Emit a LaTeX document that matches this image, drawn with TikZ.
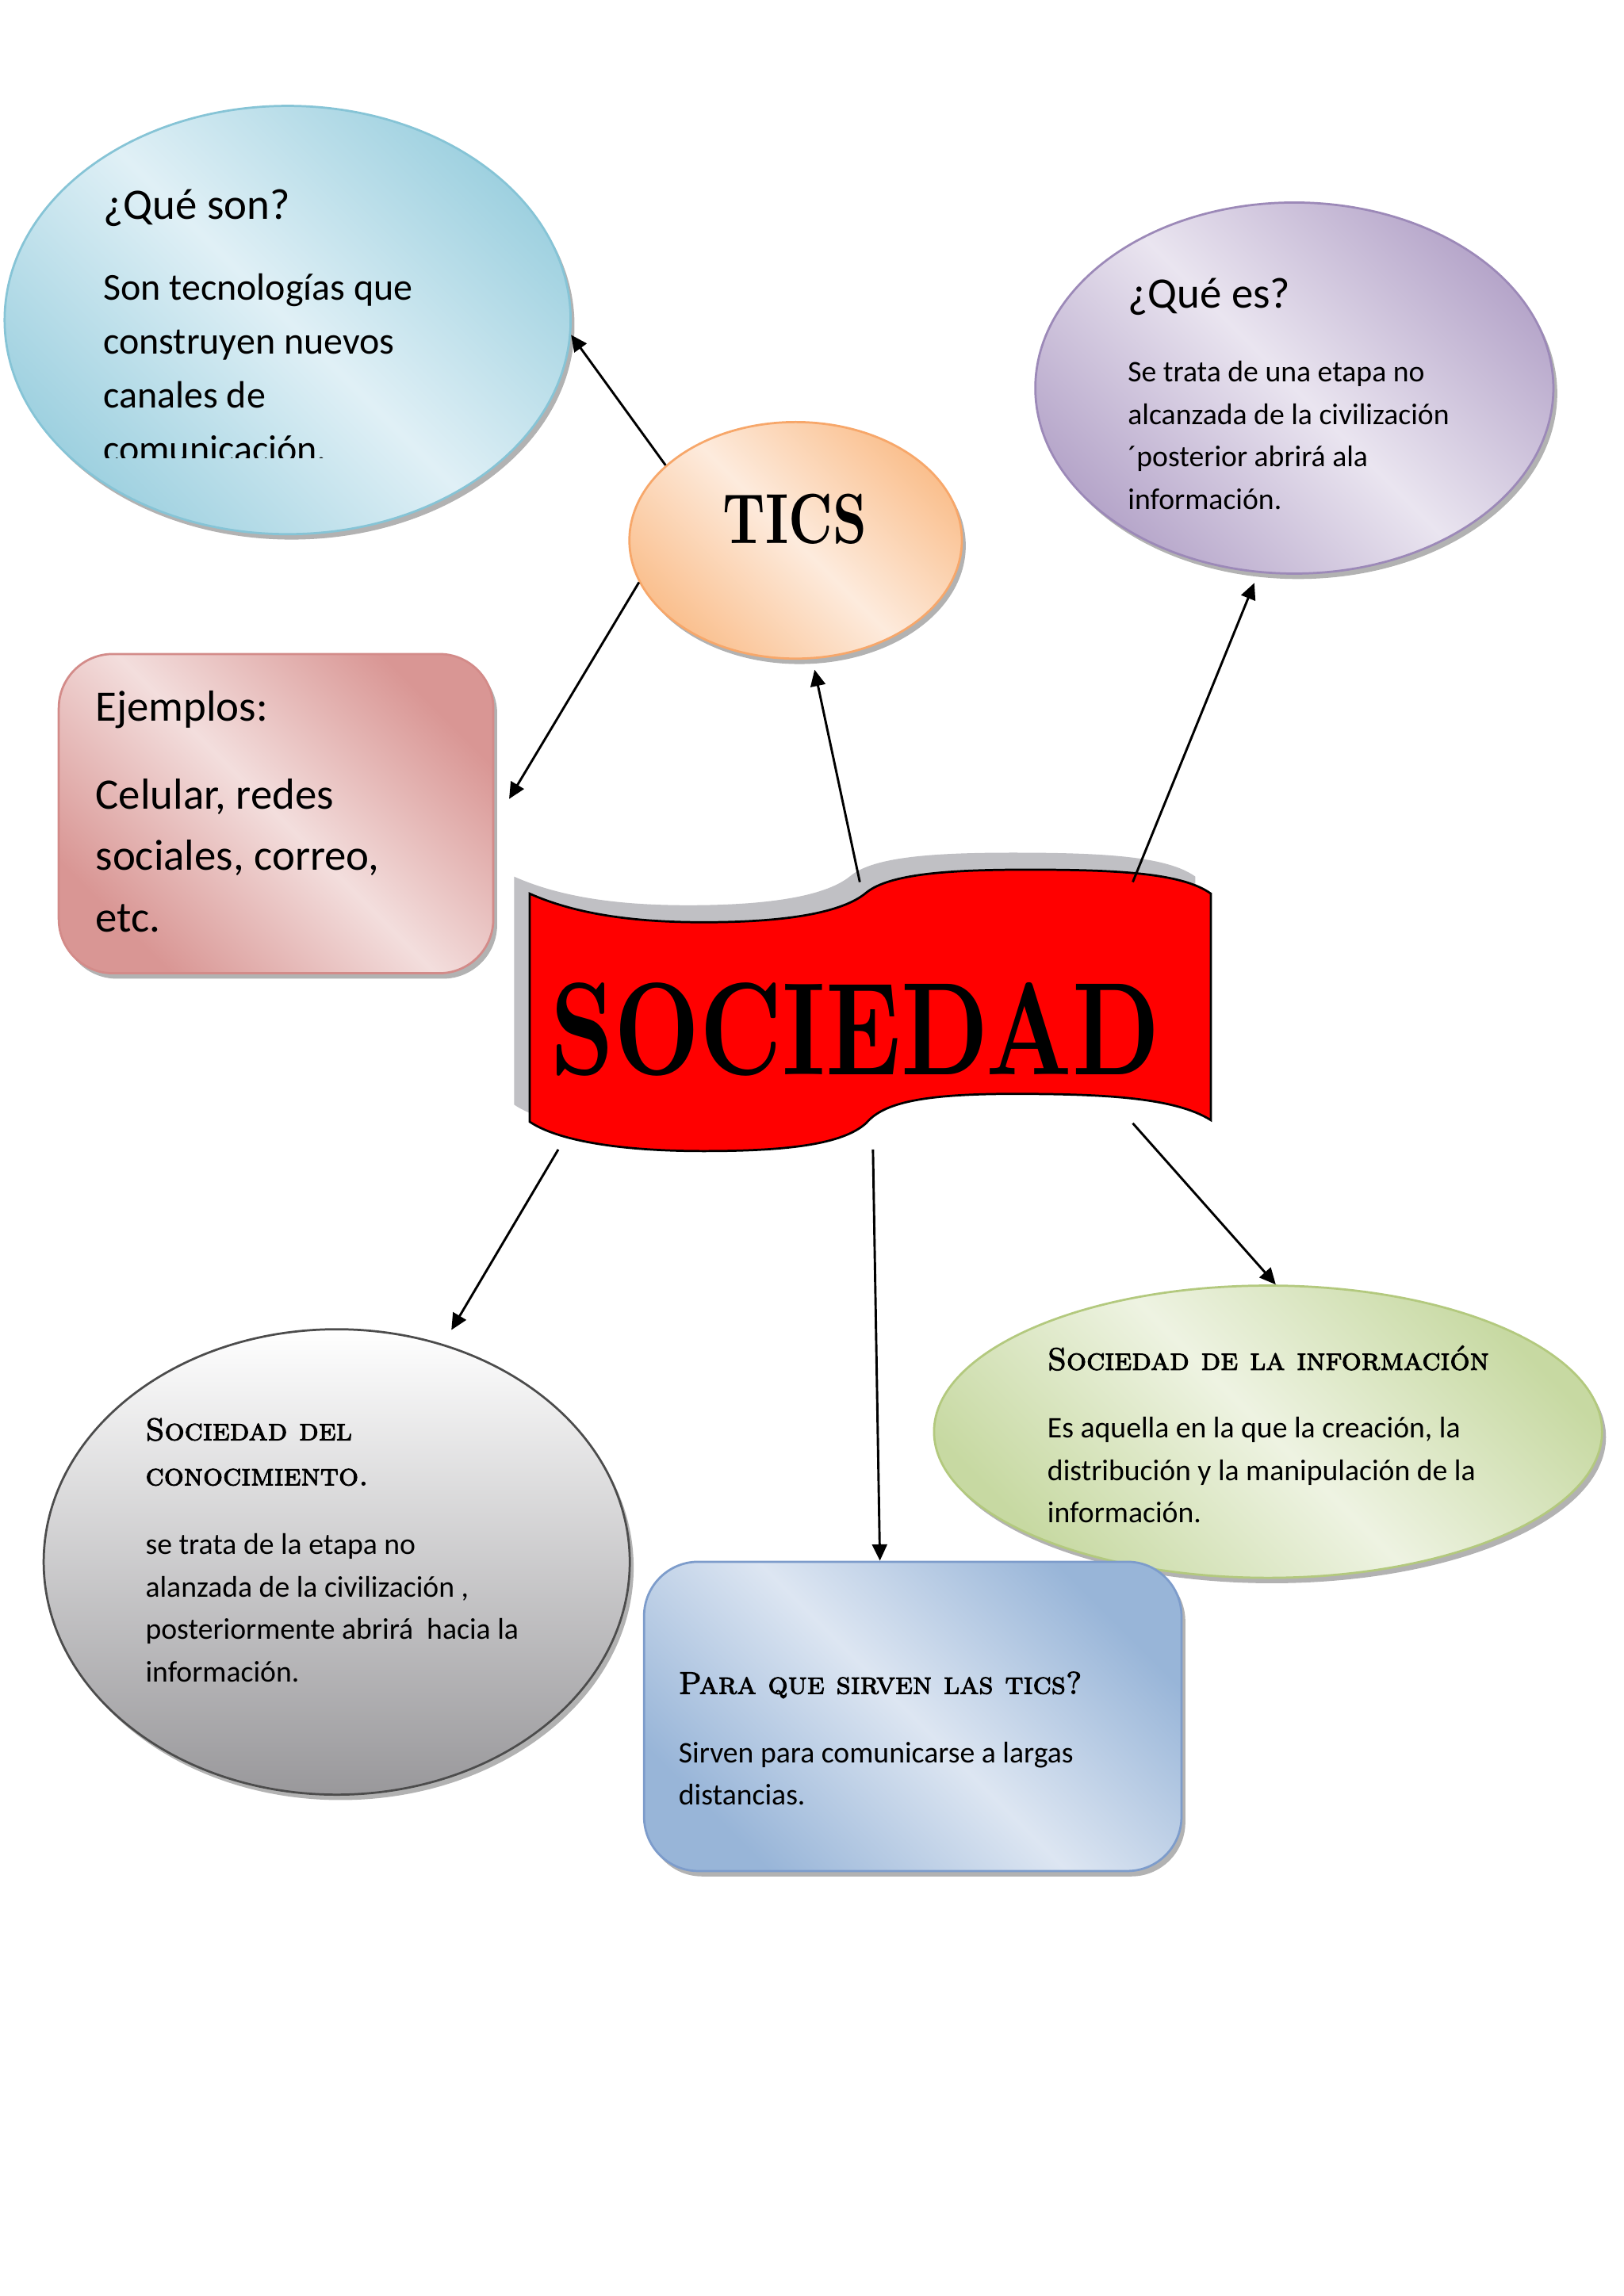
\documentclass[tikz,border=0pt]{standalone}
\usepackage{fontspec}
\usepackage{graphicx}
\newfontfamily\calibri{Carlito}
\newfontfamily\decofont[FakeBold=2.5]{lmromancaps10-regular.otf}
\usetikzlibrary{arrows.meta,shapes.geometric,shadows}
\definecolor{bluD}{HTML}{9FD1E0}
\definecolor{bluL}{HTML}{E0F0F6}
\definecolor{bluO}{HTML}{86C4D6}
\definecolor{oraD}{HTML}{FAC08F}
\definecolor{oraL}{HTML}{FDEBDD}
\definecolor{oraO}{HTML}{F7A76A}
\definecolor{purD}{HTML}{B6A6CA}
\definecolor{purL}{HTML}{EAE5F0}
\definecolor{purO}{HTML}{9C89B8}
\definecolor{pinD}{HTML}{D99694}
\definecolor{pinL}{HTML}{F3DEDD}
\definecolor{pinO}{HTML}{D38B89}
\definecolor{grnD}{HTML}{C7D9A2}
\definecolor{grnL}{HTML}{EEF3E2}
\definecolor{grnO}{HTML}{B3C97E}
\definecolor{sbxD}{HTML}{98B5D8}
\definecolor{sbxL}{HTML}{DDE6F2}
\definecolor{sbxO}{HTML}{7D9CCB}
\definecolor{greyB}{HTML}{99989B}
\definecolor{flagshadow}{HTML}{C0C0C4}
\newcommand{\txtlines}[1]{\begin{tabular}[t]{@{}l@{}}#1\end{tabular}}
\newcommand{\sociedadflag}{(6.85,18.14) .. controls (7.5,17.85) and (8.3,17.77) .. (9.1,17.77)
  .. controls (10.2,17.77) and (10.9,17.9) .. (11.2,18.15) .. controls (11.5,18.4) and (12.3,18.45) .. (13.3,18.45)
  .. controls (14.5,18.45) and (15.3,18.4) .. (15.66,18.14) -- (15.66,15.21)
  .. controls (15.2,15.5) and (14.3,15.55) .. (13.1,15.55) .. controls (11.8,15.55) and (11.4,15.4) .. (11.2,15.17)
  .. controls (10.9,14.9) and (10.2,14.81) .. (9.1,14.81) .. controls (8.0,14.81) and (7.2,14.95) .. (6.85,15.19) -- cycle}

\begin{document}
\begin{tikzpicture}[
  ell/.style={ellipse,draw,line width=0.8pt,inner sep=0pt},
  rbox/.style={rectangle,rounded corners=0.7cm,draw,line width=0.8pt,inner sep=0pt},
  shd/.style={drop shadow={shadow xshift=0.05cm,shadow yshift=-0.07cm,fill=black,opacity=0.3}},
  tint/.style n args={2}{left color=#1,right color=#1,middle color=#2,shading angle=-45},
  conn/.style={-{Triangle[length=6pt,width=5.5pt]},line width=0.85pt},
  txttitle/.style={anchor=base west,inner sep=0pt,font=\calibri\fontsize{16}{22.5}\selectfont},
  txtbig/.style={anchor=base west,inner sep=0pt,font=\calibri\fontsize{16}{22.5}\selectfont},
  txtmid/.style={anchor=base west,inner sep=0pt,font=\calibri\fontsize{14}{19.9}\selectfont},
  txtsmall/.style={anchor=base west,inner sep=0pt,font=\calibri\fontsize{11}{15.6}\selectfont},
  txtdeco/.style={anchor=base west,inner sep=0pt,font=\decofont\fontsize{11.5}{16.6}\selectfont}]
\useasboundingbox (0,0) rectangle (21,29.7);
\fill[white] (0,0) rectangle (21,29.7);

\node[ell,shd,draw=bluO,tint={bluD}{bluL},minimum width=7.32cm,minimum height=5.54cm] (qson) at (3.72,25.56) {};
\node[ell,shd,draw=oraO,tint={oraD}{oraL},minimum width=4.3cm,minimum height=3.06cm] (tics) at (10.29,22.71) {};
\node[ell,shd,draw=purO,tint={purD}{purL},minimum width=6.7cm,minimum height=4.8cm] (quees) at (16.74,24.68) {};
\node[rbox,shd,draw=pinO,tint={pinD}{pinL},minimum width=5.62cm,minimum height=4.13cm] (ejem) at (3.57,19.175) {};
\node[ell,shd,draw=black!70,top color=white,bottom color=greyB,minimum width=7.58cm,minimum height=6.02cm] (conoc) at (4.355,9.495) {};
\node[ell,shd,draw=grnO,tint={grnD}{grnL},minimum width=8.64cm,minimum height=3.78cm] (sinfo) at (16.40,11.18) {};
\node[rbox,shd,draw=sbxO,tint={sbxD}{sbxL},minimum width=6.95cm,minimum height=4cm] (para) at (11.805,7.4975) {};

\fill[flagshadow,shift={(-0.2,0.22)}] \sociedadflag;
\filldraw[fill=red,draw=black,line width=0.8pt] \sociedadflag;
\node[inner sep=0pt] (soc) at (11.06,16.38) {\resizebox{7.88cm}{1.19cm}{\bfseries SOCIEDAD}};
\node[inner sep=0pt] (ticsT) at (10.28,22.98) {\resizebox{1.86cm}{0.64cm}{\bfseries TICS}};

\node[txttitle] (qsonT) at (1.33,26.86) {¿Qué son?};
\begin{scope}
\clip (0,23.78) rectangle (8,27.5);
\node[txtmid] (qsonB) at (1.33,25.82) {\txtlines{Son tecnologías que\\construyen nuevos\\canales de\\comunicación.}};
\end{scope}
\node[txttitle] (queesT) at (14.58,25.72) {¿Qué es?};
\node[txtsmall] (queesB) at (14.58,24.76) {\txtlines{Se trata de una etapa no\\alcanzada de la civilización\\´posterior abrirá ala\\información.}};
\node[txttitle] (ejemT) at (1.23,20.37) {Ejemplos:};
\node[txtbig] (ejemB) at (1.23,19.23) {\txtlines{Celular, redes\\sociales, correo,\\etc.}};
\node[txtdeco] (conocT) at (1.875,11.07) {\txtlines{Sociedad del\\conocimiento.}};
\node[txtsmall] (conocB) at (1.875,9.59) {\txtlines{se trata de la etapa no\\alanzada de la civilización ,\\posteriormente abrirá\ \ hacia la\\información.}};
\node[txtdeco] (sinfoT) at (13.54,11.98) {Sociedad de la información};
\node[txtsmall] (sinfoB) at (13.54,11.10) {\txtlines{Es aquella en la que la creación, la\\distribución y la manipulación de la\\información.}};
\node[txtdeco] (paraT) at (8.77,7.79) {Para que sirven las tics?};
\node[txtsmall] (paraB) at (8.77,6.90) {\txtlines{Sirven para comunicarse a largas\\distancias.}};

\coordinate (b1) at (11.12,18.29);
\coordinate (b2) at (14.65,18.29);
\coordinate (b3) at (7.22,14.83);
\coordinate (b4) at (11.29,14.83);
\coordinate (b5) at (14.65,15.17);
\draw[conn] (tics.150) -- (qson.-3);
\draw[conn] (tics.195) -- ([shift={(0.19,0.19)}]ejem.east);
\draw[conn,shorten >=4pt] (b1) -- (tics.-82);
\draw[conn,shorten >=4pt] (b2) -- (quees.-101);
\draw[conn,shorten >=6pt] (b3) -- (conoc.64);
\draw[conn] (b4) -- ([xshift=-0.425cm]para.north);
\draw[conn] (b5) -- (sinfo.87);
\end{tikzpicture}
\end{document}
